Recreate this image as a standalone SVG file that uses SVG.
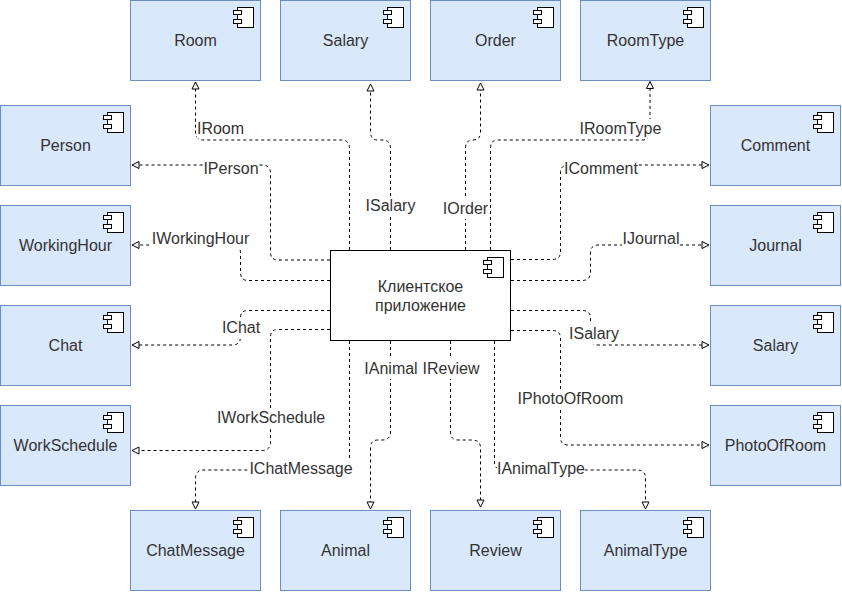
<svg xmlns="http://www.w3.org/2000/svg" width="842" height="592" viewBox="0 0 842 592">
<style>
.n{fill:#dae8fc;stroke:#6c8ebf;stroke-width:1}
.m{fill:#fff;stroke:#000;stroke-width:1}
.t{font-family:"Liberation Sans",Arial,sans-serif;font-size:16px;fill:#333;text-anchor:middle}
.c{fill:none;stroke:#000;stroke-width:1;stroke-dasharray:3 3;marker-end:url(#a)}
.l{font-family:"Liberation Sans",Arial,sans-serif;font-size:16px;fill:#333;text-anchor:middle}
.b{fill:#fff;stroke:none}
</style>
<defs>
<marker id="a" markerUnits="userSpaceOnUse" markerWidth="10" markerHeight="10" refX="7" refY="4" orient="auto" overflow="visible"><path d="M0 0.500L7 4L0 7.500Z" fill="#fff" stroke="#000" stroke-dasharray="none"/></marker>
<g id="ic"><rect class="m" x="-23" y="7.500" width="16" height="20"/><rect class="m" x="-27" y="10.500" width="8" height="4"/><rect class="m" x="-27" y="19.500" width="8" height="4"/></g>
</defs>
<g id="connectors">
<path class="c" d="M349.500 250V148Q349.500 140 341 140H204Q195.500 140 195.500 132V82"/>
<path class="c" d="M390.500 250V148Q390.500 140 382 140H378Q370.500 140 370.500 132V84"/>
<path class="c" d="M465.500 250V148Q465.500 140 473 140Q480.500 140 480.500 132V83"/>
<path class="c" d="M490.500 250V148Q490.500 140 498 140H642Q650 140 650 132V81.500"/>
<path class="c" d="M330 260H278Q270.500 260 270.500 252V173Q270.500 165 262 165H132"/>
<path class="c" d="M330 280.500H248Q240.500 280.500 240.500 272V253Q240.500 245 232 245H132"/>
<path class="c" d="M330 310.500H248Q240.500 310.500 240.500 318V337Q240.500 345 232 345H132"/>
<path class="c" d="M330 329.500H278Q270.500 329.500 270.500 337V442Q270.500 450.500 262 450.500H132"/>
<path class="c" d="M349.500 341V462Q349.500 470 341 470H204Q195.500 470 195.500 478V509"/>
<path class="c" d="M390.500 341V432Q390.500 440 382 440H378Q370.500 440 370.500 448V509"/>
<path class="c" d="M450.500 341V432Q450.500 440 458 440H472Q480.500 440 480.500 448V507"/>
<path class="c" d="M494.500 341V462Q494.500 470 503 470H637Q645.500 470 645.500 478V509"/>
<path class="c" d="M511 259.500H552Q560.500 259.500 560.500 252V173Q560.500 165 568 165H709"/>
<path class="c" d="M511 280.500H582Q590.500 280.500 590.500 272V253Q590.500 245 598 245H709"/>
<path class="c" d="M511 310.500H582Q590.500 310.500 590.500 318V337Q590.500 345 598 345H709"/>
<path class="c" d="M511 330.500H552Q560.500 330.500 560.500 338V437Q560.500 445 568 445H709"/>
</g>
<g id="labels">
<rect class="b" x="197" y="119" width="47" height="19"/><text class="l" x="220.500" y="134">IRoom</text>
<rect class="b" x="203" y="159" width="56" height="19"/><text class="l" x="231" y="174">IPerson</text>
<rect class="b" x="152" y="229" width="97" height="20"/><text class="l" x="200.500" y="244">IWorkingHour</text>
<rect class="b" x="222" y="319" width="38" height="20"/><text class="l" x="241" y="333">IChat</text>
<rect class="b" x="217" y="408" width="108" height="20"/><text class="l" x="271" y="423">IWorkSchedule</text>
<rect class="b" x="249" y="459" width="104" height="20"/><text class="l" x="301" y="474">IChatMessage</text>
<rect class="b" x="365" y="196" width="51" height="20"/><text class="l" x="390.500" y="211">ISalary</text>
<rect class="b" x="443" y="199" width="45" height="20"/><text class="l" x="465.500" y="214">IOrder</text>
<rect class="b" x="580" y="119" width="81" height="19"/><text class="l" x="620.500" y="134">IRoomType</text>
<rect class="b" x="564" y="159" width="74" height="20"/><text class="l" x="601" y="174">IComment</text>
<rect class="b" x="622" y="229" width="58" height="20"/><text class="l" x="651" y="244">IJournal</text>
<rect class="b" x="569" y="324" width="50" height="20"/><text class="l" x="594" y="339">ISalary</text>
<rect class="b" x="518" y="389" width="105" height="20"/><text class="l" x="570.500" y="404">IPhotoOfRoom</text>
<rect class="b" x="364" y="359" width="54" height="20"/><text class="l" x="391" y="374">IAnimal</text>
<rect class="b" x="422" y="359" width="58" height="20"/><text class="l" x="451" y="374">IReview</text>
<rect class="b" x="497" y="459" width="88" height="20"/><text class="l" x="541" y="474">IAnimalType</text>
</g>
<g id="room"><rect class="n" x="130.500" y="0.500" width="130" height="80"/><use href="#ic" x="260.500" y="0"/><text class="t" x="195.500" y="46">Room</text></g>
<g id="salary-top"><rect class="n" x="280.500" y="0.500" width="130" height="80"/><use href="#ic" x="410.500" y="0"/><text class="t" x="345.500" y="46">Salary</text></g>
<g id="order"><rect class="n" x="430.500" y="0.500" width="130" height="80"/><use href="#ic" x="560.500" y="0"/><text class="t" x="495.500" y="46">Order</text></g>
<g id="roomtype"><rect class="n" x="580.500" y="0.500" width="130" height="80"/><use href="#ic" x="710.500" y="0"/><text class="t" x="645.500" y="46">RoomType</text></g>
<g id="person"><rect class="n" x="0.500" y="105.500" width="130" height="80"/><use href="#ic" x="130.500" y="105"/><text class="t" x="65.500" y="151">Person</text></g>
<g id="workinghour"><rect class="n" x="0.500" y="205.500" width="130" height="80"/><use href="#ic" x="130.500" y="205"/><text class="t" x="65.500" y="251">WorkingHour</text></g>
<g id="chat"><rect class="n" x="0.500" y="305.500" width="130" height="80"/><use href="#ic" x="130.500" y="305"/><text class="t" x="65.500" y="351">Chat</text></g>
<g id="workschedule"><rect class="n" x="0.500" y="405.500" width="130" height="80"/><use href="#ic" x="130.500" y="405"/><text class="t" x="65.500" y="451">WorkSchedule</text></g>
<g id="comment"><rect class="n" x="710.500" y="105.500" width="130" height="80"/><use href="#ic" x="840.500" y="105"/><text class="t" x="775.500" y="151">Comment</text></g>
<g id="journal"><rect class="n" x="710.500" y="205.500" width="130" height="80"/><use href="#ic" x="840.500" y="205"/><text class="t" x="775.500" y="251">Journal</text></g>
<g id="salary-right"><rect class="n" x="710.500" y="305.500" width="130" height="80"/><use href="#ic" x="840.500" y="305"/><text class="t" x="775.500" y="351">Salary</text></g>
<g id="photoofroom"><rect class="n" x="710.500" y="405.500" width="130" height="80"/><use href="#ic" x="840.500" y="405"/><text class="t" x="775.500" y="451">PhotoOfRoom</text></g>
<g id="chatmessage"><rect class="n" x="130.500" y="510.500" width="130" height="80"/><use href="#ic" x="260.500" y="510"/><text class="t" x="195.500" y="556">ChatMessage</text></g>
<g id="animal"><rect class="n" x="280.500" y="510.500" width="130" height="80"/><use href="#ic" x="410.500" y="510"/><text class="t" x="345.500" y="556">Animal</text></g>
<g id="review"><rect class="n" x="430.500" y="510.500" width="130" height="80"/><use href="#ic" x="560.500" y="510"/><text class="t" x="495.500" y="556">Review</text></g>
<g id="animaltype"><rect class="n" x="580.500" y="510.500" width="130" height="80"/><use href="#ic" x="710.500" y="510"/><text class="t" x="645.500" y="556">AnimalType</text></g>
<g id="client"><rect class="m" x="330.500" y="250.500" width="180" height="90"/><use href="#ic" x="510.500" y="250"/><text class="t" x="420.500" y="292">Клиентское</text><text class="t" x="420.500" y="311">приложение</text></g>
</svg>
